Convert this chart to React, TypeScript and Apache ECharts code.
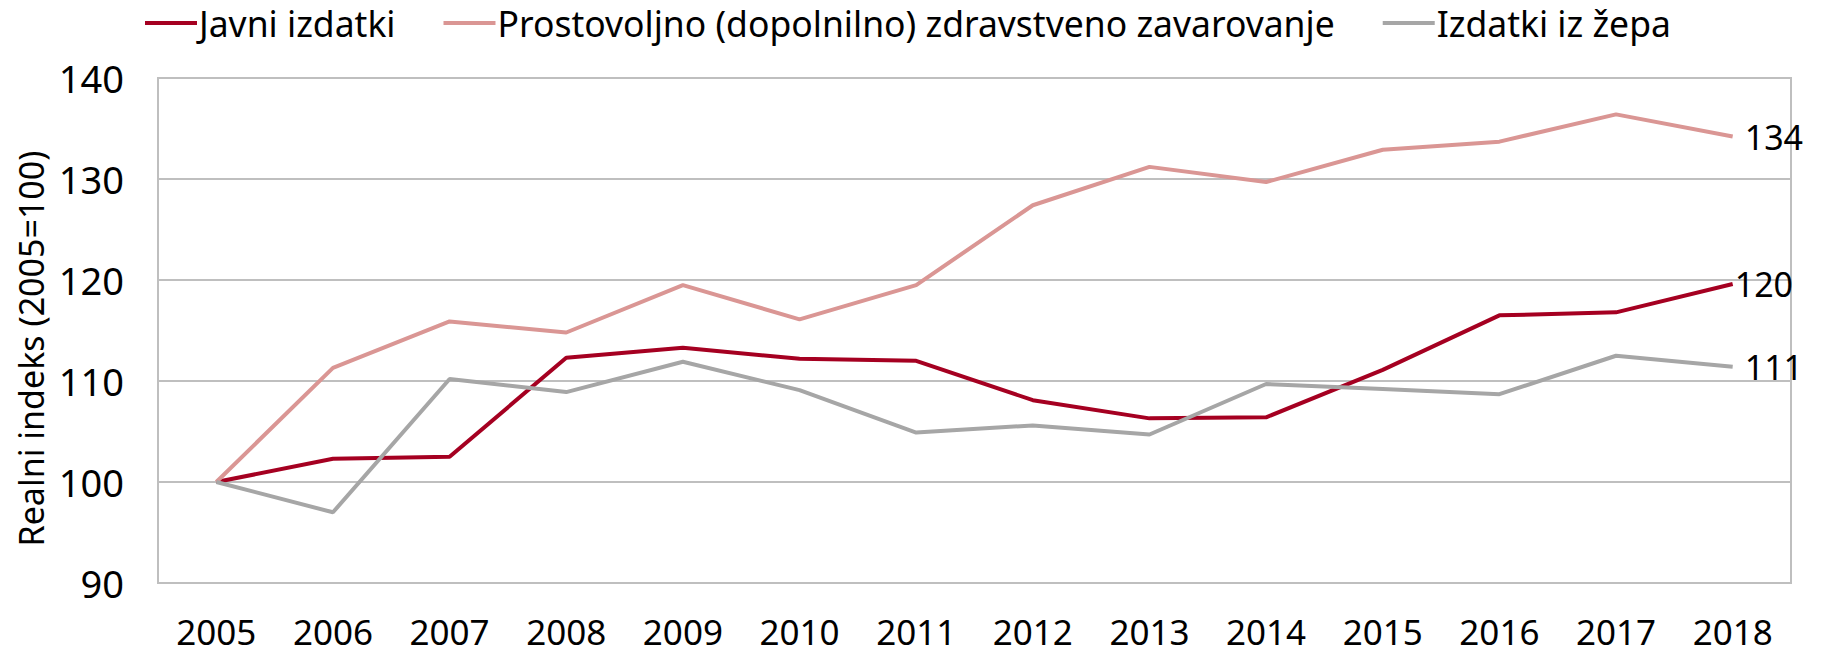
import React, { useEffect, useRef } from "react";
import * as echarts from "echarts";

const years = ["2005", "2006", "2007", "2008", "2009", "2010", "2011", "2012", "2013", "2014", "2015", "2016", "2017", "2018"];
const seriesNames = ["Javni izdatki", "Prostovoljno (dopolnilno) zdravstveno zavarovanje", "Izdatki iz žepa"];
const javniIzdatki = [100, 102.3, 102.5, 112.3, 113.3, 112.2, 112.0, 108.1, 106.3, 106.4, 111.1, 116.5, 116.8, 119.6];
const prostovoljno = [100, 111.3, 115.9, 114.8, 119.5, 116.1, 119.5, 127.4, 131.2, 129.7, 132.9, 133.7, 136.4, 134.2];
const izZepa = [100, 97.0, 110.2, 108.9, 111.9, 109.1, 104.9, 105.6, 104.7, 109.7, 109.2, 108.7, 112.5, 111.4];
const colors = ["#A50021", "#DA9694", "#A6A6A6"];
const yTicks = { min: 90, max: 140, interval: 10 };
const yName = "Realni indeks (2005=100)";

const FONT = "'Noto Sans', sans-serif";

export default function App() {
  const ref = useRef<HTMLDivElement>(null);
  useEffect(() => {
    if (!ref.current) return;
    const chart = echarts.init(ref.current, undefined, { renderer: "svg" });
    const values = [javniIzdatki, prostovoljno, izZepa];
    const endDistances = [2, 12, 12];
    chart.setOption({
      animation: false,
      textStyle: { fontFamily: FONT },
      legend: {
        data: seriesNames,
        left: 145,
        top: 5,
        icon: "rect",
        itemWidth: 52,
        itemHeight: 4,
        itemGap: 48,
        padding: 0,
        textStyle: { fontSize: 35.5, color: "#000", fontFamily: FONT, padding: [0, 0, 0, -3] },
      },
      grid: {
        left: 158,
        right: 35,
        top: 78,
        bottom: 70,
        show: true,
        borderColor: "#BFBFBF",
        borderWidth: 2,
      },
      xAxis: {
        type: "category",
        data: years,
        boundaryGap: true,
        axisLine: { show: true, lineStyle: { color: "#BFBFBF", width: 2 } },
        axisTick: { show: false },
        axisLabel: { fontSize: 35, lineHeight: 28, color: "#000", margin: 34, fontFamily: FONT },
      },
      yAxis: {
        type: "value",
        min: yTicks.min,
        max: yTicks.max,
        interval: yTicks.interval,
        name: yName,
        nameLocation: "middle",
        nameGap: 110,
        nameRotate: 90,
        nameTextStyle: { fontSize: 34, color: "#000", fontFamily: FONT, padding: [0, 36, 0, 0] },
        axisLine: { show: false },
        axisTick: { show: false },
        axisLabel: { fontSize: 38, color: "#000", margin: 34, fontFamily: FONT },
        splitLine: { show: true, lineStyle: { color: "#BFBFBF", width: 2 } },
      },
      series: seriesNames.map((name, i) => ({
        name,
        type: "line",
        data: values[i],
        symbol: "none",
        color: colors[i],
        lineStyle: { color: colors[i], width: 4 },
        endLabel: {
          show: true,
          distance: endDistances[i],
          fontSize: 34,
          color: "#000",
          fontFamily: FONT,
          formatter: (p: any) => {
            const v = Array.isArray(p.value) ? p.value[p.value.length - 1] : p.value;
            return String(Math.round(v));
          },
        },
      })),
    });
    return () => chart.dispose();
  }, []);
  return (
    <div
      ref={ref}
      style={{ position: "absolute", left: 0, top: 0, width: 1826, height: 653, background: "#fff" }}
    />
  );
}
